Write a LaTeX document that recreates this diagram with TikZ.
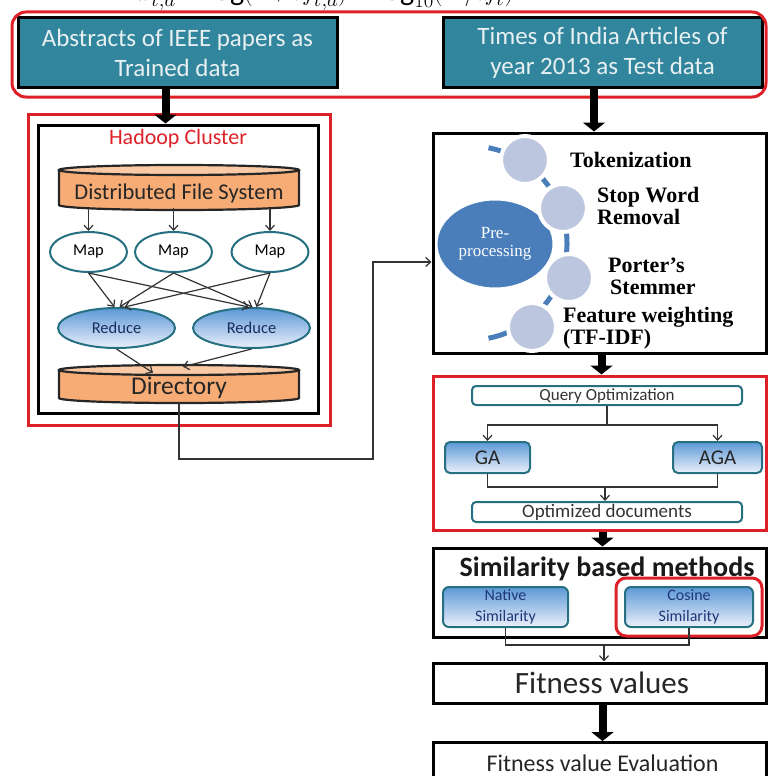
\documentclass[tikz,border=0pt]{standalone}
\usepackage{fontspec}
\setmainfont{Carlito}
\newfontfamily\timesfont{Liberation Serif}
\usetikzlibrary{arrows.meta,shapes.geometric,calc}

\definecolor{tealbox}{RGB}{49,133,156}
\definecolor{tealtext}{RGB}{232,240,242}
\definecolor{frame}{RGB}{222,32,40}
\definecolor{tealline}{RGB}{38,112,130}
\definecolor{orangefill}{RGB}{247,172,118}
\definecolor{orangetop}{RGB}{250,202,166}
\definecolor{blueA}{RGB}{92,152,214}
\definecolor{blueB}{RGB}{236,240,251}
\definecolor{prefill}{RGB}{74,126,187}
\definecolor{stepfill}{RGB}{188,198,222}
\definecolor{navy}{RGB}{30,55,120}

\tikzset{
  inputbox/.style={draw=black, line width=3pt, fill=tealbox, text=tealtext,
    minimum width=319pt, minimum height=69pt, align=center, inner sep=0,
    font=\fontsize{25}{30}\selectfont},
  blackbox/.style={draw=black, line width=3pt, inner sep=0},
  redbox/.style={draw=frame, line width=3pt, inner sep=0},
  mapnode/.style={ellipse, draw=tealline, line width=2pt, fill=white,
    minimum width=77pt, minimum height=40pt, inner sep=0,
    font=\fontsize{16.5}{16.5}\selectfont},
  reducenode/.style={ellipse, draw=tealline, line width=2pt, top color=blueA,
    bottom color=blueB, minimum width=117pt, minimum height=40pt, inner sep=0,
    text=navy!80!black, font=\fontsize{16.5}{16.5}\selectfont},
  steplabel/.style={anchor=west, align=left, inner sep=0,
    font=\timesfont\bfseries\fontsize{22}{22}\selectfont},
  stepcircle/.style={circle, fill=stepfill, draw=white, line width=4pt,
    minimum size=48pt, inner sep=0},
  flowbar/.style={draw=tealline, line width=2pt, rounded corners=4pt, fill=white,
    minimum width=270pt, inner sep=0, text=black!80},
  algobox/.style={draw=tealline, line width=2pt, rounded corners=5pt,
    top color=blueA, bottom color=blueB, minimum height=31pt, inner sep=0,
    font=\fontsize{21}{21}\selectfont, text=black!85},
  simnode/.style={draw=tealline, line width=2pt, rounded corners=6pt,
    top color=blueA, bottom color=blueB, minimum height=40pt, inner sep=0,
    align=center, text=navy, font=\fontsize{16}{21}\selectfont},
  linkline/.style={draw=black!80, line width=1.2pt},
  linkarrow/.style={linkline, -{Straight Barb[length=5pt,width=9pt]}},
  bigarrow/.style={draw=black, line width=8pt, -{Triangle[width=22pt,length=9pt]}}
}

% orange storage drum: left x, right x, top rim y, bottom rim y
\newcommand\drumshape[4]{%
  \pgfmathsetmacro\drumrx{(#2-#1)/2}%
  \pgfmathsetmacro\drumcx{(#2+#1)/2}%
  \fill[orangefill] (#1,#3) -- (#1,#4)
    arc[start angle=180,end angle=360,x radius=\drumrx pt,y radius=5pt]
    -- (#2,#3) -- cycle;
  \draw[line width=2.2pt, black!85] (#1,#3) -- (#1,#4)
    arc[start angle=180,end angle=360,x radius=\drumrx pt,y radius=5pt]
    -- (#2,#3);
  \filldraw[fill=orangetop, draw=black!85, line width=2.2pt]
    (\drumcx,#3) ellipse[x radius=\drumrx pt, y radius=5pt];
}

\begin{document}
\begin{tikzpicture}[x=1pt,y=-1pt]
\useasboundingbox (0,0) rectangle (768,776);
\clip (0,0) rectangle (768,776);

% term weighting formula (runs off the top edge)
\node[anchor=base west, inner sep=0, font=\fontsize{30}{30}\selectfont] (formula)
  at (134,1) {$w_{t,d} = \log(1+tf_{t,d}) \times \log_{10}(N/df_t)$};

% data sources
\node[inputbox] (abs) at (177.5,52.5) {Abstracts of IEEE papers as\\Trained data};
\node[inputbox] (toi) at (602.5,52.5) {Times of India Articles of\\year 2013 as Test data};
\node[redbox, rounded corners=14pt, minimum width=754pt, minimum height=85pt]
  (inputs) at (389,54.5) {};

% Hadoop cluster
\node[redbox, minimum width=302pt, minimum height=311pt] (hadoopframe) at (179,269.5) {};
\node[blackbox, minimum width=280pt, minimum height=288pt] (hadoop) at (178,269) {};
\node[text=frame, font=\fontsize{22}{22}\selectfont] (htitle) at (178,139) {Hadoop Cluster};

\drumshape{59}{299}{170}{205}
\node[minimum width=240pt, minimum height=35pt, inner sep=0] (dfs) at (179,187.5) {};
\node[font=\fontsize{22.5}{22.5}\selectfont, text=black!85] (dfslabel) at (179,193) {Distributed File System};

\node[mapnode] (m1) at (88.5,252) {Map};
\node[mapnode] (m2) at (173.5,252) {Map};
\node[mapnode] (m3) at (270,252) {Map};

\node[reducenode] (r1) at (116.5,328) {Reduce};
\node[reducenode] (r2) at (251.5,328) {Reduce};

\drumshape{59}{299}{370}{398}
\node[minimum width=240pt, minimum height=28pt, inner sep=0] (dir) at (179,384) {};
\node[font=\fontsize{25.5}{25.5}\selectfont, text=black!85] (dirlabel) at (179,388) {Directory};

\foreach \m in {m1,m2,m3}
  \draw[linkarrow] ([yshift=-3pt]\m.north |- dfs.south) -- (\m.north);
\draw[linkarrow] (m1.south) -- ([xshift=-2pt]r1.north);
\draw[linkarrow] (m2.south) -- ([xshift=3pt]r1.north);
\draw[linkarrow] (m3.south) -- ([xshift=8pt]r1.north);
\draw[linkarrow] (m1.south) -- ([xshift=-3pt]r2.north);
\draw[linkarrow] (m2.south) -- ([xshift=1pt]r2.north);
\draw[linkarrow] (m3.south) -- ([xshift=5pt]r2.north);
\draw[linkarrow] (r1.south) -- ([xshift=-26pt,yshift=-3pt]dir.north);
\draw[linkarrow] (r2.south) -- ([xshift=4pt,yshift=3pt]dir.north);

% pre-processing stage
\node[blackbox, minimum width=333pt, minimum height=220pt] (prebox) at (599.5,243) {};
\draw[prefill, line width=5pt] (470,243) ++(-79:97pt) arc[start angle=-79,end angle=79,radius=97pt];
\node[ellipse, fill=prefill, draw=white, line width=2pt, minimum width=117pt,
  minimum height=89pt, inner sep=0, align=center, text=white,
  font=\timesfont\fontsize{17}{18}\selectfont] (preproc) at (495,244) {Pre-\\processing};
\node[stepcircle] (s1) at (525,160) {};
\node[stepcircle] (s2) at (563,208) {};
\node[stepcircle] (s3) at (569,278) {};
\node[stepcircle] (s4) at (532,327) {};
\node[steplabel] (t1) at (570,160) {Tokenization};
\node[steplabel] (t2) at (597,206) {Stop Word\\Removal};
\node[steplabel] (t3) at (608,276) {Porter’s\\\hspace*{2pt}Stemmer};
\node[steplabel] (t4) at (563,328) {Feature weighting\\(TF-IDF)};

\coordinate (bendpt) at (373,459);
\draw[linkarrow] ([yshift=-5pt]dir.south) |- (bendpt) |- ([yshift=-19pt]prebox.west);

% query optimization stage
\node[redbox, minimum width=333pt, minimum height=154pt] (qoframe) at (599.5,453) {};
\node[flowbar, minimum height=19pt, font=\fontsize{17}{17}\selectfont] (qo) at (607,395.5) {Query Optimization};
\node[algobox, minimum width=85pt] (ga) at (487.5,457.5) {GA};
\node[algobox, minimum width=89pt] (aga) at (717.5,457.5) {AGA};
\node[flowbar, minimum height=20pt, font=\fontsize{19}{19}\selectfont] (od) at (607,512) {Optimized documents};
\coordinate (qosplit) at (607,425);
\coordinate (qojoin) at (605,487);
\draw[linkline] (qo.south) -- (qosplit);
\draw[linkarrow] (qosplit) -| (ga.north);
\draw[linkarrow] (qosplit) -| (aga.north);
\draw[linkline] (ga.south) |- (aga.south |- qojoin) -- (aga.south);
\draw[linkarrow] (qojoin) -- (qojoin |- od.north);

% similarity stage
\node[blackbox, minimum width=333pt, minimum height=89pt] (simbox) at (599.5,592.5) {};
\node[font=\bfseries\fontsize{28}{28}\selectfont, text=black!90] (simtitle) at (607,569) {Similarity based methods};
\node[simnode, minimum width=125pt] (native) at (505.5,607) {Native\\Similarity};
\node[simnode, minimum width=128pt] (cosine) at (689,607) {Cosine\\Similarity};
\node[redbox, rounded corners=10pt, minimum width=146pt, minimum height=58pt] (cosframe) at (689,607) {};

% fitness stages
\node[blackbox, minimum width=333pt, minimum height=40pt, font=\fontsize{31}{31}\selectfont,
  text=black!85] (fit) at (599.5,683) {\hspace*{5pt}Fitness values};
\node[blackbox, minimum width=333pt, minimum height=60pt, anchor=north] (eval) at (599.5,741) {};
\node[font=\fontsize{24}{24}\selectfont, text=black!85] (evallabel) at (602.5,763) {Fitness value Evaluation};

\coordinate (simjoin) at (604,645);
\draw[linkline] (native.south) |- (cosine.south |- simjoin) -- (cosine.south);
\draw[linkarrow] (simjoin) -- (simjoin |- fit.north);

% main flow arrows
\draw[bigarrow] ([xshift=-12pt]abs.south) -- ([xshift=-12pt]abs.south |- hadoop.north);
\draw[bigarrow] ([xshift=-8.5pt]toi.south) -- ([xshift=-8.5pt]toi.south |- prebox.north);
\draw[bigarrow] ([xshift=2pt]prebox.south) -- ([xshift=2pt]qoframe.north);
\draw[bigarrow] ([xshift=3pt]qoframe.south) -- ([xshift=3pt]simbox.north);
\draw[bigarrow] ([xshift=3pt]fit.south) -- ([xshift=3pt]eval.north);
\end{tikzpicture}
\end{document}
